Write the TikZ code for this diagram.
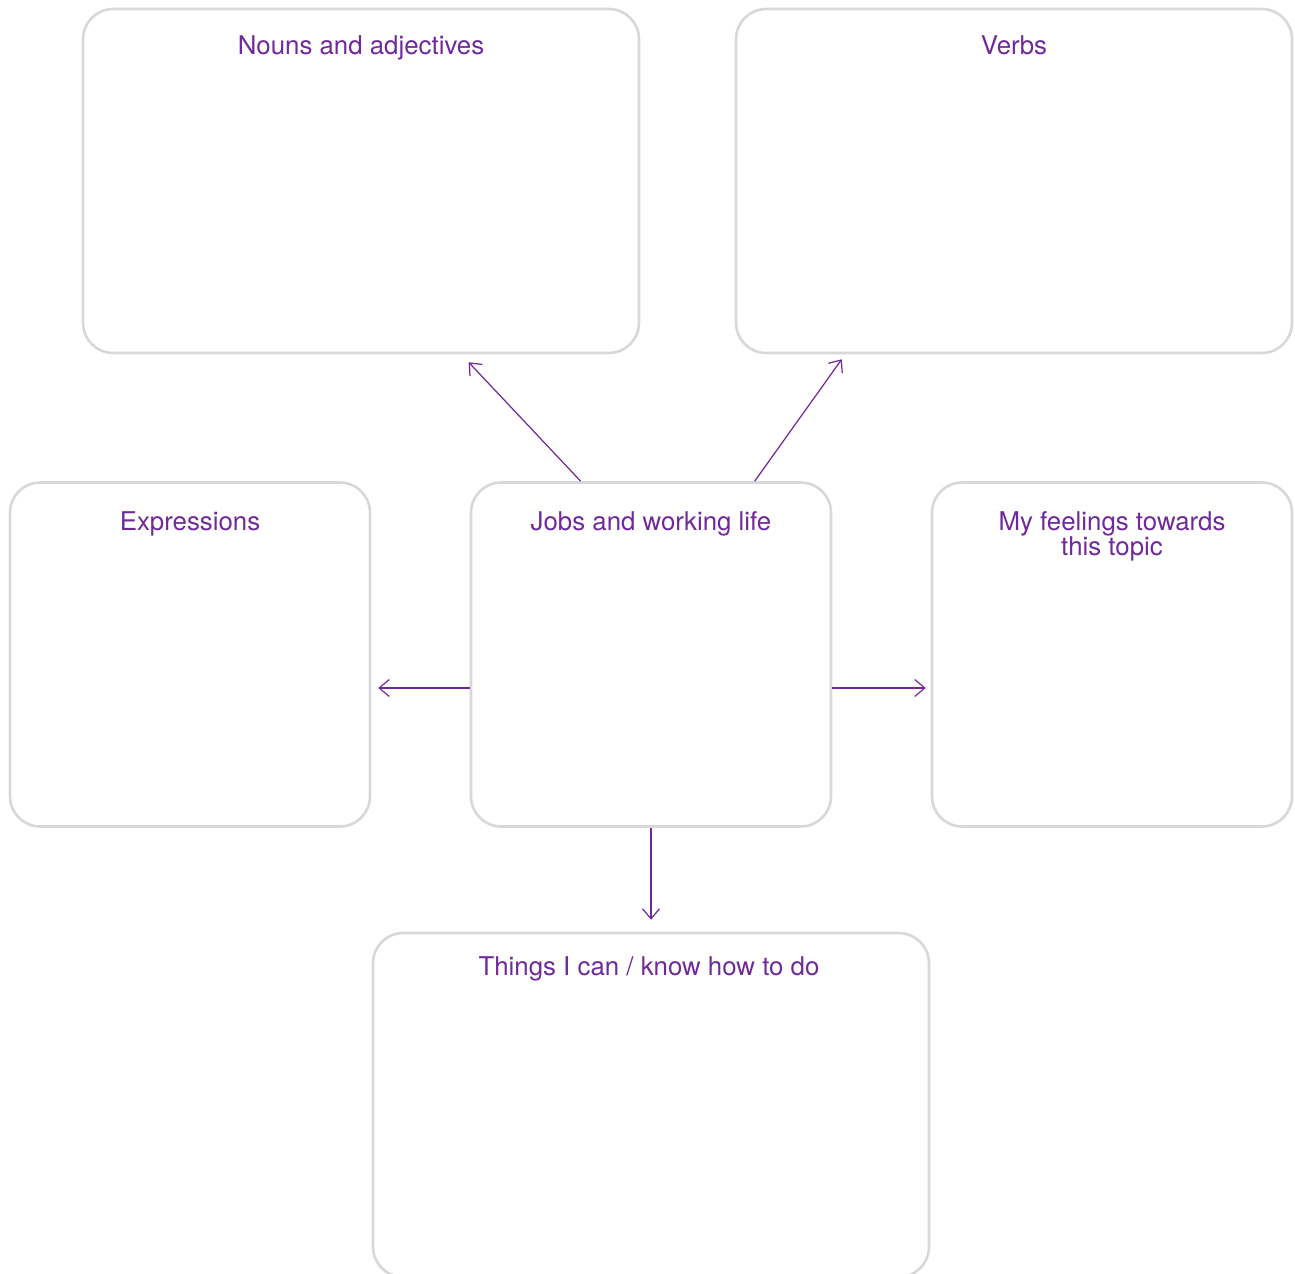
\documentclass[tikz,border=0pt]{standalone}
\usepackage{fontspec}
\setmainfont{TeX Gyre Heros}
\usepackage{xcolor}
\usetikzlibrary{arrows.meta}

\definecolor{plum}{HTML}{70299A}
\definecolor{frame}{HTML}{D7D8DA}

\begin{document}
\begin{tikzpicture}[x=0.02cm,y=-0.02cm]
    \tikzstyle{panel}=[rectangle,draw=frame,line width=1.5pt,rounded corners=0.6cm,minimum width=11.12cm,minimum height=6.88cm]
    \tikzstyle{square}=[panel,minimum width=7.2cm]
    \tikzstyle{head}=[text=plum,font=\fontsize{14.7}{14.2}\selectfont,align=center,anchor=base,inner sep=0pt]
    \tikzstyle{link}=[draw=plum,line width=0.7pt,-{Straight Barb[length=0.2cm,width=0.34cm]}]

    \clip (0,0) rectangle (1295,1274);

    % Top row
    \node [panel] (nouns) at (361, 181) {};
    \node [panel] (verbs) at (1014, 181) {};

    % Middle row
    \node [square] (expr)   at (190, 654.5) {};
    \node [square] (centre) at (651, 654.5) {};
    \node [square] (feel)   at (1112, 654.5) {};

    % Bottom
    \node [panel] (things) at (651, 1105) {};

    % Titles
    \node [head] (nounsT)  at ([yshift=-0.94cm]nouns.north)  {Nouns and adjectives};
    \node [head] (verbsT)  at ([yshift=-0.94cm]verbs.north)  {Verbs};
    \node [head] (exprT)   at ([yshift=-0.98cm]expr.north)   {Expressions};
    \node [head] (centreT) at ([yshift=-0.98cm]centre.north) {Jobs and working life};
    \node [head] (feelT)   at ([yshift=-1.48cm]feel.north)   {My feelings towards\\this topic};
    \node [head] (thingsT) at ([xshift=-0.04cm,yshift=-0.88cm]things.north) {Things I can / know how to do};

    % Arrows from the centre
    \draw [link] ([xshift=2.22cm]centre.north west) -- ([xshift=7.74cm,yshift=-0.16cm]nouns.south west);
    \draw [link] ([xshift=5.70cm]centre.north west) -- ([xshift=2.14cm,yshift=-0.10cm]verbs.south west);
    \draw [link] ([yshift=-0.67cm]centre.west) -- ([xshift=0.14cm,yshift=-0.67cm]expr.east);
    \draw [link] ([yshift=-0.67cm]centre.east) -- ([xshift=-0.10cm,yshift=-0.67cm]feel.west);
    \draw [link] (centre.south) -- ([yshift=0.24cm]things.north);
\end{tikzpicture}
\end{document}
